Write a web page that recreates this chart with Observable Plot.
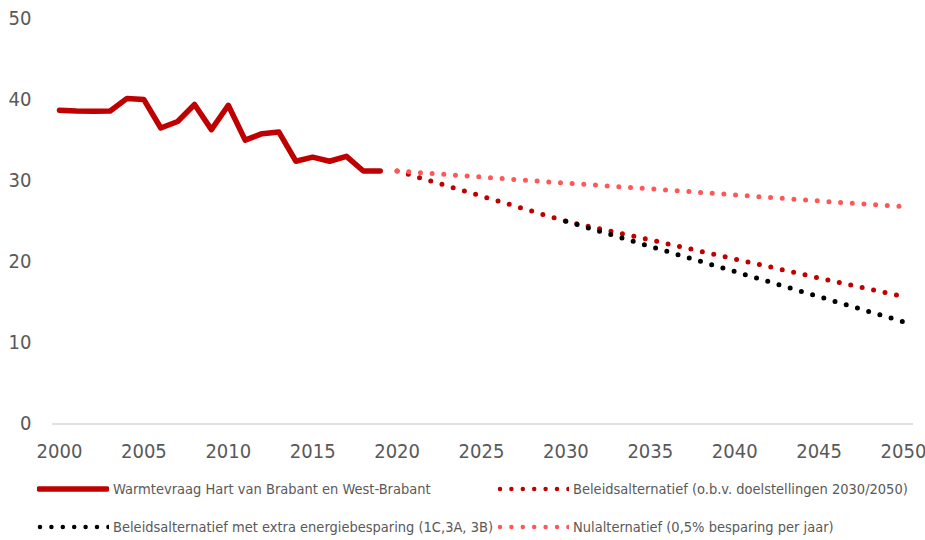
<!DOCTYPE html>
<html><head><meta charset="utf-8">
<script src="https://cdn.jsdelivr.net/npm/d3@7"></script>
<script src="https://cdn.jsdelivr.net/npm/@observablehq/plot@0.6"></script>
<style>
body{margin:0;background:#fff;font-family:"Liberation Sans Narrow","DejaVu Sans Condensed",sans-serif;}
#wrap{position:relative;width:925px;height:540px;overflow:hidden}
#chart{position:absolute;left:0;top:0}
.leg{position:absolute;display:flex;align-items:center;font-size:14.5px;color:#595959;white-space:nowrap;height:20px}
.leg svg{margin-right:4px}
</style></head><body><div id="wrap"><div id="chart"></div></div>
<script>
const histYears = [2000,2001,2002,2003,2004,2005,2006,2007,2008,2009,2010,2011,2012,2013,2014,2015,2016,2017,2018,2019];
const histValues = [38.7,38.6,38.55,38.6,40.15,40.0,36.5,37.3,39.4,36.3,39.3,35.0,35.8,36.0,32.4,32.9,32.4,33.0,31.2,31.2];
const beleidYears = [2020,2025,2030,2035,2040,2045,2050];
const beleidValues = [31.2,28.1,25.0,22.7,20.35,18.0,15.7];
const extraYears = [2030,2035,2040,2045,2050];
const extraValues = [25.0,21.9,18.8,15.7,12.6];
const nulYears = [2020,2025,2030,2035,2040,2045,2050];
const nulValues = [31.2,30.45,29.7,29.0,28.25,27.5,26.8];
const xTicks = [2000,2005,2010,2015,2020,2025,2030,2035,2040,2045,2050];
const yTicks = [0,10,20,30,40,50];
const seriesNames = [
  "Warmtevraag Hart van Brabant en West-Brabant",
  "Beleidsalternatief (o.b.v. doelstellingen 2030/2050)",
  "Beleidsalternatief met extra energiebesparing (1C,3A, 3B)",
  "Nulalternatief (0,5% besparing per jaar)"
];
const seriesColors = ["#C00000","#C00000","#000000","#FF5757"];

const toRows = (ys, vs) => ys.map((y,i)=>({year:y, value:vs[i]}));
const hist = toRows(histYears, histValues);
const beleid = toRows(beleidYears, beleidValues);
const extra = toRows(extraYears, extraValues);
const nul = toRows(nulYears, nulValues);

const dot = {strokeWidth:5, strokeLinecap:"round", strokeDasharray:"0 11.7"};

const chart = Plot.plot({
  width:925, height:470,
  marginTop:18, marginBottom:46.5, marginLeft:59, marginRight:22,
  style:{fontFamily:'"Liberation Sans Narrow","DejaVu Sans Condensed",sans-serif', fontSize:"20px", color:"#595959", background:"#fff"},
  x:{domain:[2000,2050], ticks:xTicks, tickFormat:d=>String(d), tickSize:0, tickPadding:20, label:null},
  y:{domain:[0,50], ticks:yTicks, tickSize:0, tickPadding:28, label:null},
  marks:[
    Plot.ruleY([0], {stroke:"#D9D9D9", strokeWidth:1.5, insetLeft:-7, insetRight:-10}),
    Plot.line(hist, {x:"year", y:"value", stroke:seriesColors[0], strokeWidth:5.5, strokeLinejoin:"round", strokeLinecap:"round"}),
    Plot.line(beleid, {x:"year", y:"value", stroke:seriesColors[1], ...dot}),
    Plot.line(extra, {x:"year", y:"value", stroke:seriesColors[2], ...dot}),
    Plot.line(nul, {x:"year", y:"value", stroke:seriesColors[3], ...dot})
  ]
});
document.getElementById("chart").appendChild(chart);

const wrap = document.getElementById("wrap");
const legPos = [[37,479],[497,479],[37,517],[497,517]];
seriesNames.forEach((name,i)=>{
  const div = document.createElement("div");
  div.className = "leg";
  div.style.left = legPos[i][0]+"px";
  div.style.top = legPos[i][1]+"px";
  const solid = i===0;
  const svg = `<svg width="72" height="20"><line x1="${solid?2:3}" x2="${solid?70:73}" y1="10" y2="10" stroke="${seriesColors[i]}" stroke-width="${solid?5.5:4.5}" stroke-linecap="round" ${solid?"":'stroke-dasharray="0 11.4"'}/></svg>`;
  div.innerHTML = svg + `<span>${name}</span>`;
  wrap.appendChild(div);
});
</script>
</body></html>
